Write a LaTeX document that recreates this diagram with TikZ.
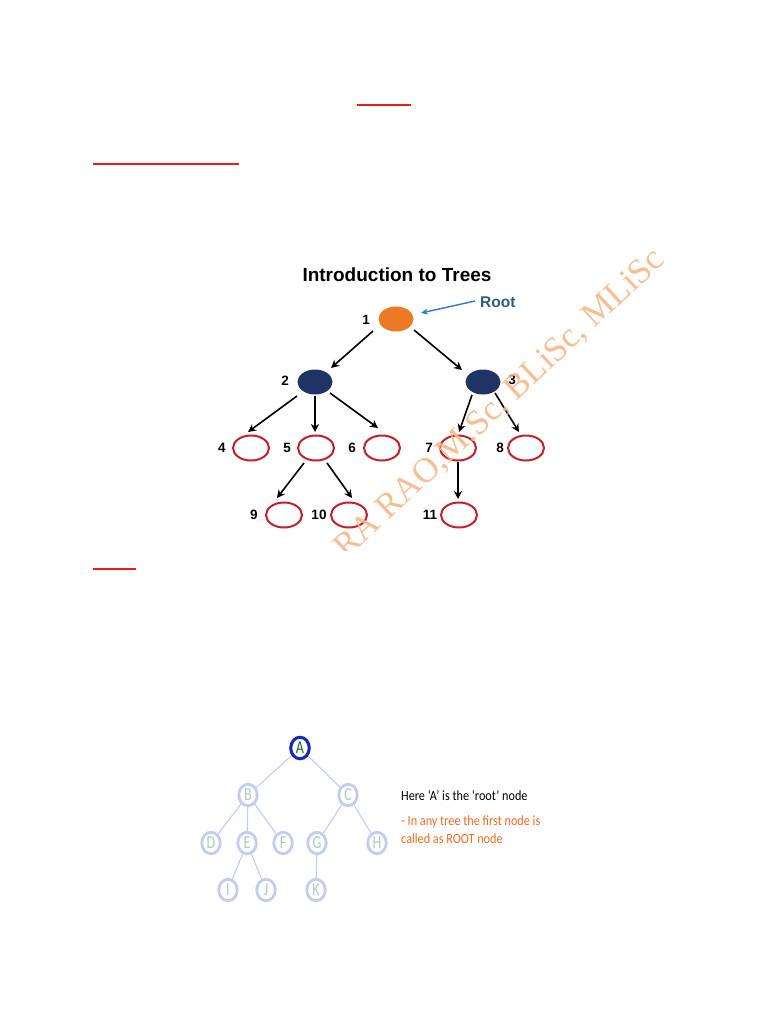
\documentclass[tikz,border=0pt]{standalone}
\usepackage{fontspec}
\setmainfont{Liberation Sans}
\newfontfamily\calib{Carlito}
\newfontfamily\wmfont{Liberation Serif}
\usetikzlibrary{arrows.meta,shapes.geometric}
\definecolor{ulred}{HTML}{F01818}
\definecolor{treered}{HTML}{C4202C}
\definecolor{navyfill}{HTML}{1F3464}
\definecolor{rootorange}{HTML}{EC7A22}
\definecolor{rootblue}{HTML}{2A7CC4}
\definecolor{roottext}{HTML}{2E5E7E}
\definecolor{wmorange}{HTML}{F7B88A}
\definecolor{lightblue}{HTML}{C3CDF2}
\definecolor{lightletter}{HTML}{ADCCB6}
\definecolor{rootring}{HTML}{1428C0}
\definecolor{rootletter}{HTML}{1E6A2A}
\definecolor{noteorange}{HTML}{F26A1E}
\tikzset{
  ulline/.style={ulred, line width=1.8pt},
  leaf/.style={ellipse, draw=treered, line width=2pt, fill=white, minimum width=36pt, minimum height=25pt, inner sep=0pt},
  innernode/.style={ellipse, fill=navyfill, minimum width=35pt, minimum height=25pt, inner sep=0pt},
  rootnode/.style={ellipse, fill=rootorange, minimum width=35pt, minimum height=25pt, inner sep=0pt},
  num/.style={font=\bfseries\fontsize{13.5}{15}\selectfont, inner sep=0pt},
  arr/.style={-{Stealth[length=8pt,width=8pt]}, line width=1.6pt, black},
  lnode/.style={ellipse, draw=lightblue, line width=2.8pt, fill=white, minimum width=18.5pt, minimum height=21.5pt, inner sep=0pt, text=lightletter, font=\calib\fontsize{14}{14}\selectfont},
  ledge/.style={lightblue, line width=1.1pt},
  note/.style={anchor=west, inner sep=0pt, font=\calib\fontsize{12.2}{14}\selectfont}
}
\newcommand{\tallA}[1]{\scalebox{1}[1.3]{#1}}
\newcommand{\tallB}[1]{\scalebox{1}[1.15]{#1}}
\begin{document}
\begin{tikzpicture}[x=1pt,y=-1pt]
\useasboundingbox (0,0) rectangle (768,1024);
\fill[white] (0,0) rectangle (768,1024);
% underlines
\draw[ulline] (357,105) -- (411,105);
\draw[ulline] (93,164) -- (239,164);
\draw[ulline] (93,569) -- (136,569);
% first tree
\node[font=\bfseries\fontsize{19}{21}\selectfont] (title) at (397,275) {Introduction to Trees};
\node[rootnode] (n1) at (396,319) {};
\node[innernode] (n2) at (315,382) {};
\node[innernode] (n3) at (483,382) {};
\node[leaf] (n4) at (251,448) {};
\node[leaf] (n5) at (316,448) {};
\node[leaf] (n6) at (382,448) {};
\node[leaf] (n7) at (458,448) {};
\node[leaf] (n8) at (526,448) {};
\node[leaf] (n9) at (284,515) {};
\node[leaf] (n10) at (349,515) {};
\node[leaf] (n11) at (459,515) {};
\node[num] (l1) at (366,320) {1};
\node[num] (l2) at (285,381) {2};
\node[num] (l3) at (512,380) {3};
\node[num] (l4) at (222,448) {4};
\node[num] (l5) at (287,448) {5};
\node[num] (l6) at (352,448) {6};
\node[num] (l7) at (429,448) {7};
\node[num] (l8) at (500,448) {8};
\node[num] (l9) at (254,515) {9};
\node[num] (l10) at (319,515) {10};
\node[num] (l11) at (430,515) {11};
\node[text=roottext, font=\bfseries\fontsize{15.5}{17}\selectfont, anchor=west, inner sep=0pt] (rootlbl) at (480,302) {Root};
\draw[-{Stealth[length=7pt,width=6pt]}, rootblue, line width=1.4pt] ([shift={(-5,-1)}]rootlbl.west) -- ([shift={(25,-6)}]n1.center);
\draw[arr] ([shift={(-23,12)}]n1.center) -- ([shift={(16,-14)}]n2.center);
\draw[arr] ([shift={(18,11)}]n1.center) -- ([shift={(-21,-12)}]n3.center);
\draw[arr] ([shift={(-18,14)}]n2.center) -- ([shift={(-3,-16)}]n4.center);
\draw[arr] ([shift={(0,14)}]n2.center) -- ([shift={(-1,-16)}]n5.center);
\draw[arr] ([shift={(15,11)}]n2.center) -- ([shift={(-4,-20)}]n6.center);
\draw[arr] ([shift={(-11,13)}]n3.center) -- ([shift={(1,-16)}]n7.center);
\draw[arr] ([shift={(12,11)}]n3.center) -- ([shift={(-7,-16)}]n8.center);
\draw[arr] ([shift={(-12,15)}]n5.center) -- ([shift={(-7,-17)}]n9.center);
\draw[arr] ([shift={(11,15)}]n5.center) -- ([shift={(3,-17)}]n10.center);
\draw[arr] ([shift={(0,14)}]n7.center) -- ([shift={(-1,-16)}]n11.center);
% watermark
\begin{scope}
\clip (290,230) rectangle (720,550);
\node[rotate=43, anchor=base east, text=wmorange, text opacity=0.9, font=\wmfont\fontsize{35}{35}\selectfont, inner sep=0pt] (wm) at (666,262) {RA RAO,M.Sc, BLiSc, MLiSc};
\end{scope}
% second tree
\node[lnode] (A) at (300,748) {};
\node[lnode] (B) at (248,795) {\tallA{B}};
\node[lnode] (C) at (348,795) {\tallA{C}};
\node[lnode] (D) at (211,843) {\tallA{D}};
\node[lnode] (E) at (247,843) {\tallA{E}};
\node[lnode] (F) at (283,843) {\tallA{F}};
\node[lnode] (G) at (317,843) {\tallA{G}};
\node[lnode] (H) at (377,843) {\tallA{H}};
\node[lnode] (I) at (228,890) {\tallA{I}};
\node[lnode] (J) at (266,890) {\tallA{J}};
\node[lnode] (K) at (316,890) {\tallA{K}};
\draw[ledge] (A) -- (B);
\draw[ledge] (A) -- (C);
\draw[ledge] (B) -- (D);
\draw[ledge] (B) -- (E);
\draw[ledge] (B) -- (F);
\draw[ledge] (C) -- (G);
\draw[ledge] (C) -- (H);
\draw[ledge] (E) -- (I);
\draw[ledge] (E) -- (J);
\draw[ledge] (G) -- (K);
\node[lnode, draw=rootring, line width=3pt, text=rootletter] at (A) {\tallA{A}};
\node[note] (n1txt) at (401,795) {\tallB{Here ‘A’ is the ‘root’ node}};
\node[note, text=noteorange] (n2txt) at (401,822) {\tallB{- In any tree the first node is}};
\node[note, text=noteorange] (n3txt) at (401,839) {\tallB{called as ROOT node}};
\end{tikzpicture}
\end{document}
